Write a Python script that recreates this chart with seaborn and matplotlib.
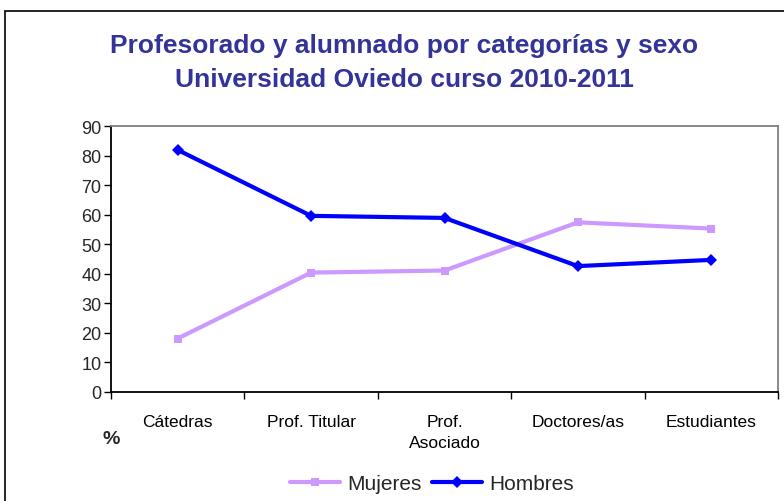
import matplotlib
matplotlib.use("Agg")
import matplotlib.pyplot as plt
import matplotlib.patches as mpatches
from matplotlib.ticker import FixedLocator
import pandas as pd
import seaborn as sns

categorias = ["Cátedras", "Prof. Titular", "Prof.\nAsociado", "Doctores/as", "Estudiantes"]
mujeres = [18.1, 40.4, 41.1, 57.4, 55.3]
hombres = [81.9, 59.6, 58.9, 42.6, 44.7]

df = pd.DataFrame({
    "pos": list(range(len(categorias))) * 2,
    "valor": mujeres + hombres,
    "sexo": ["Mujeres"] * len(mujeres) + ["Hombres"] * len(hombres),
})

sns.set_style("white")
plt.rcParams["font.family"] = ["Liberation Sans", "DejaVu Sans"]

fig = plt.figure(figsize=(7.84, 5.02), dpi=100)
ax = fig.add_axes([111 / 784, 1 - 393 / 502, (778 - 111) / 784, (393 - 127) / 502])

sns.lineplot(data=df, x="pos", y="valor", hue="sexo", style="sexo",
             palette={"Mujeres": "#CC99FF", "Hombres": "#0000FF"},
             markers={"Mujeres": "s", "Hombres": "D"}, dashes=False,
             linewidth=3, markersize=6, markeredgewidth=0, ax=ax)

ax.set_xlim(-0.5, len(categorias) - 0.5)
ax.set_ylim(0, 90)
ax.set_yticks(range(0, 91, 10))
ax.set_xticks(range(len(categorias)))
ax.set_xticklabels(categorias, fontsize=12.5, color="black", linespacing=1.5)
ax.xaxis.set_minor_locator(FixedLocator([i - 0.5 for i in range(len(categorias) + 1)]))
ax.tick_params(axis="x", which="major", length=0, pad=16)
ax.tick_params(axis="x", which="minor", length=5, width=1, color="black", direction="out", bottom=True)
ax.tick_params(axis="y", length=5, width=1, color="black", direction="out", left=True, labelsize=13, pad=2)
ax.set_xlabel("")
ax.set_ylabel("")

for s in ["left", "bottom"]:
    ax.spines[s].set_color("black")
    ax.spines[s].set_linewidth(1.3)
for s in ["top", "right"]:
    ax.spines[s].set_color("#808080")
    ax.spines[s].set_linewidth(1.3)

fig.text(111 / 784, 1 - 440 / 502, "%", fontsize=14, fontweight="bold", ha="center", va="center")

fig.text(404 / 784, 1 - 46 / 502, "Profesorado y alumnado por categorías y sexo",
         fontsize=19, fontweight="bold", color="#333399", ha="center", va="center")
fig.text(404 / 784, 1 - 80 / 502, "Universidad Oviedo curso 2010-2011",
         fontsize=19, fontweight="bold", color="#333399", ha="center", va="center")

handles, labels = ax.get_legend_handles_labels()
ax.legend_.remove()
fig.legend(handles, labels, loc="center", bbox_to_anchor=(432 / 784, 1 - 485 / 502),
           ncol=2, frameon=False, fontsize=15, handlelength=2.4, columnspacing=0.5,
           handletextpad=0.35)

fig.patches.append(mpatches.Rectangle((5 / 784, -0.1), 1.1, 0.1 + 1 - 12 / 502,
                                      transform=fig.transFigure, fill=False,
                                      edgecolor="black", linewidth=1.2))

fig.savefig("out.png", dpi=100)
